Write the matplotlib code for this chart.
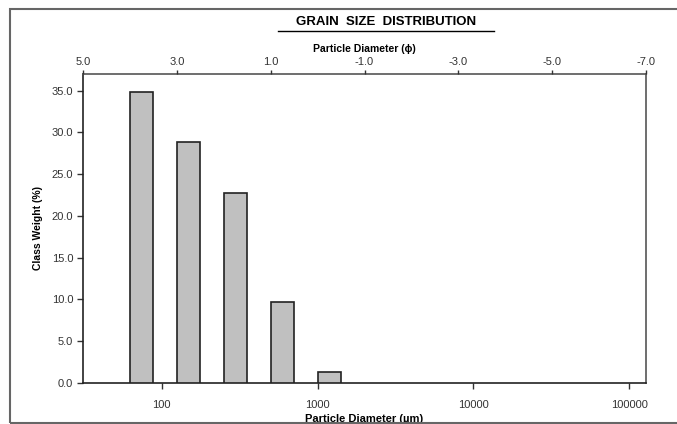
import numpy as np
import matplotlib
matplotlib.use("Agg")
import matplotlib.pyplot as plt
from matplotlib.patches import Rectangle
from matplotlib.lines import Line2D

# Data
class_phi = [4.0, 3.0, 2.0, 1.0, 0.0]          # lower phi bound of each class
class_weight = [34.9, 28.9, 22.7, 9.7, 1.3]     # %
um_ticks = [100, 1000, 10000, 100000]
um_ticklabels = ["100", "1000", "10000", "100000"]
phi_ticks = [5.0, 3.0, 1.0, -1.0, -3.0, -5.0, -7.0]
phi_ticklabels = ["5.0", "3.0", "1.0", "-1.0", "-3.0", "-5.0", "-7.0"]
y_ticks = [0, 5, 10, 15, 20, 25, 30, 35]

plt.rcParams['font.family'] = ['Liberation Sans', 'DejaVu Sans']

def phi_to_um(p):
    return 1000.0 * np.power(2.0, -np.asarray(p, dtype=float))

fig = plt.figure(figsize=(6.77, 4.24), dpi=100)
ax = fig.add_axes([83/677, 1-383/424, (646-83)/677, (383-74)/424])

lefts = phi_to_um(class_phi)
rights = phi_to_um(np.array(class_phi) - 0.5)
ax.bar(lefts, class_weight, width=rights - lefts, align='edge',
       color='#c0c0c0', edgecolor='#222222', linewidth=1.2, zorder=3)

ax.set_xscale('log')
ax.set_xlim(phi_to_um(5.0), phi_to_um(-7.0))
ax.set_ylim(0, 37)
ax.set_xticks(um_ticks)
ax.set_xticklabels(um_ticklabels)
ax.xaxis.set_minor_locator(matplotlib.ticker.NullLocator())
ax.set_yticks(y_ticks)
ax.set_yticklabels([f"{v:.1f}" for v in y_ticks])
ax.tick_params(axis='both', labelsize=8, labelcolor='#333333', color='#333333',
               length=4, width=1, direction='out', pad=3)
ax.tick_params(axis='x', pad=8)
for s in ['left', 'bottom']:
    ax.spines[s].set_color('#222222')
    ax.spines[s].set_linewidth(1.2)
for s in ['right', 'top']:
    ax.spines[s].set_color('#555555')
    ax.spines[s].set_linewidth(1.2)

ax.set_ylabel("Class Weight (%)", fontsize=7.5, fontweight='bold', labelpad=6)
ax.set_xlabel("Particle Diameter (\u00b5m)", fontsize=8, fontweight='bold', labelpad=3)

top = ax.twiny()
top.set_xlim(5.0, -7.0)
top.set_xticks(phi_ticks)
top.set_xticklabels(phi_ticklabels)
top.xaxis.set_minor_locator(matplotlib.ticker.NullLocator())
top.tick_params(axis='x', labelsize=8, labelcolor='#333333', color='#333333',
                length=3, width=1, direction='out', pad=2)
top.set_xlabel("Particle Diameter (\u03d5)", fontsize=7.5, fontweight='bold', labelpad=4)
for s in top.spines.values():
    s.set_visible(False)

# Title with underline
fig.text(386/677, 1-22/424, "GRAIN  SIZE  DISTRIBUTION", ha='center', va='center',
         fontsize=9.5, fontweight='bold')
fig.add_artist(Line2D([278/677, 494/677], [1-30.5/424, 1-30.5/424],
                      transform=fig.transFigure, color='black', linewidth=1.0))

# Figure border
fig.add_artist(Rectangle((10/677, 1-423/424), 1.0, (423-8.5)/424,
                         transform=fig.transFigure, fill=False,
                         edgecolor='#666666', linewidth=1.5, clip_on=False))

fig.savefig("out.png", dpi=100)
